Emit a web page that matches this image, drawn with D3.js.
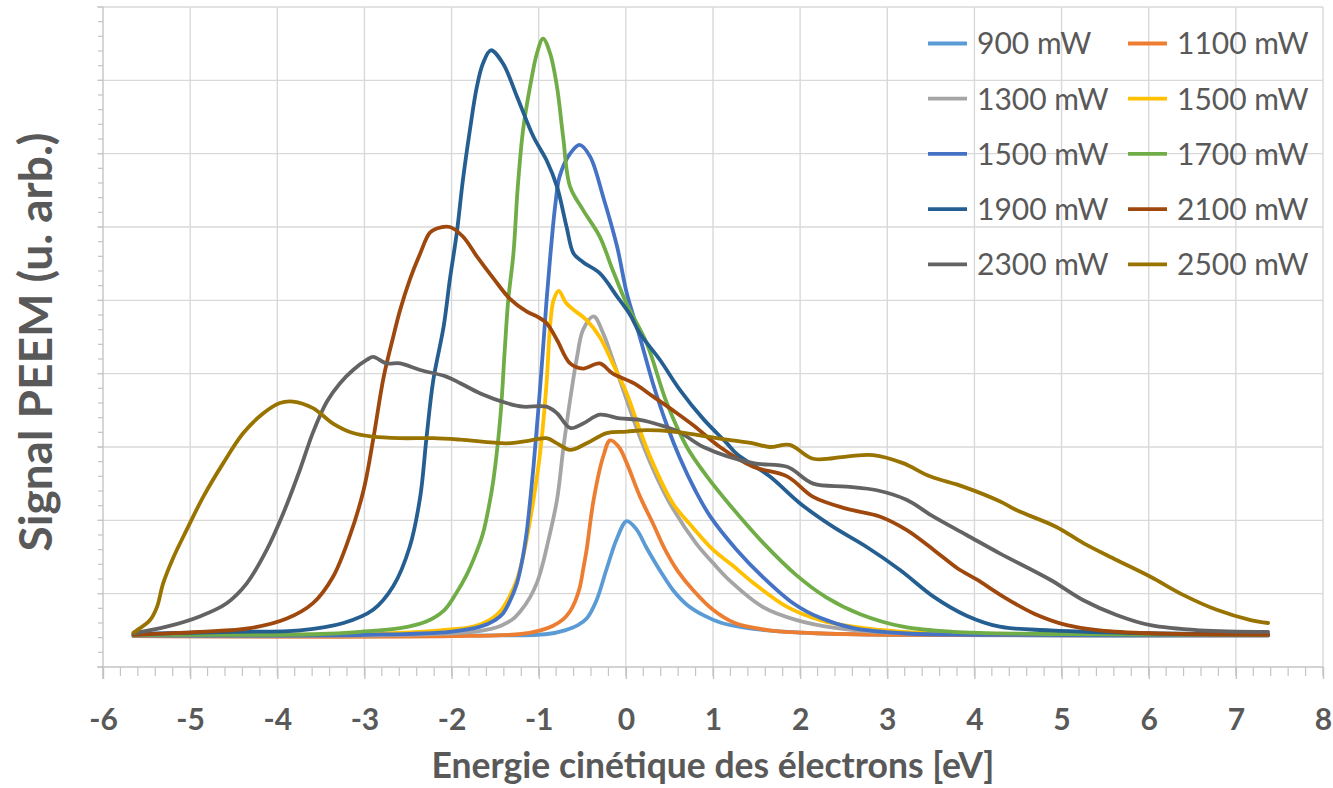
<!DOCTYPE html>
<html>
<head>
<meta charset="utf-8">
<script src="https://cdn.jsdelivr.net/npm/d3@7"></script>
<style>
  html, body { margin: 0; padding: 0; background: #fff; }
  svg { display: block; }
  text { font-family: Lato, "Open Sans", sans-serif; }
</style>
</head>
<body>
<svg id="chart" width="1333" height="788"></svg>
<script>
// ---- Data -------------------------------------------------------------
const xTicks = [-6, -5, -4, -3, -2, -1, 0, 1, 2, 3, 4, 5, 6, 7, 8];
const xTickLabels = ["-6", "-5", "-4", "-3", "-2", "-1", "0", "1", "2", "3", "4", "5", "6", "7", "8"];
const yTicks = [0, 1, 2, 3, 4, 5, 6, 7, 8, 9];

const seriesNames = ["900 mW", "1100 mW", "1300 mW", "1500 mW", "1500 mW",
                     "1700 mW", "1900 mW", "2100 mW", "2300 mW", "2500 mW"];

// [kinetic energy (eV), PEEM signal (arb. units)]
const s900 = [[-5.65,0.42],[-3,0.42],[-1.5,0.43],[-0.9,0.45],[-0.7,0.5],[-0.55,0.57],[-0.45,0.66],
  [-0.34,0.9],[-0.22,1.34],[-0.1,1.76],[0.01,1.99],[0.12,1.88],[0.24,1.62],[0.4,1.3],[0.54,1.05],
  [0.7,0.85],[0.9,0.7],[1.1,0.6],[1.46,0.52],[2,0.47],[3,0.44],[7.37,0.43]];
const s1100 = [[-5.65,0.42],[-2,0.42],[-1.2,0.45],[-0.98,0.5],[-0.84,0.56],[-0.72,0.65],[-0.64,0.76],
  [-0.58,0.9],[-0.53,1.08],[-0.49,1.33],[-0.45,1.6],[-0.37,2.28],[-0.26,2.87],[-0.18,3.09],[-0.08,3.0],
  [0.01,2.78],[0.16,2.33],[0.31,1.96],[0.45,1.6],[0.6,1.3],[0.77,1.05],[1.0,0.78],[1.25,0.6],[1.65,0.5],
  [2.2,0.46],[3,0.44],[7.37,0.43]];
const s1300 = [[-5.65,0.43],[-2.5,0.44],[-1.75,0.48],[-1.55,0.52],[-1.44,0.56],[-1.3,0.65],[-1.21,0.76],
  [-1.1,0.95],[-1.02,1.15],[-0.96,1.38],[-0.91,1.62],[-0.79,2.28],[-0.72,2.96],[-0.64,3.64],[-0.56,4.23],
  [-0.49,4.6],[-0.37,4.78],[-0.26,4.55],[-0.15,4.19],[0.01,3.64],[0.16,3.14],[0.35,2.6],[0.54,2.16],
  [0.81,1.68],[1.0,1.42],[1.2,1.17],[1.57,0.82],[1.96,0.64],[2.42,0.53],[3,0.47],[4,0.45],[7.37,0.44]];
const s1500a = [[-5.65,0.44],[-3,0.45],[-2.13,0.5],[-1.75,0.55],[-1.55,0.65],[-1.44,0.76],[-1.34,0.95],
  [-1.25,1.19],[-1.19,1.45],[-1.14,1.73],[-1.06,2.28],[-0.98,2.96],[-0.91,3.87],[-0.87,4.64],[-0.83,5.0],
  [-0.77,5.13],[-0.69,4.97],[-0.61,4.88],[-0.45,4.73],[-0.3,4.5],[-0.15,4.14],[0.01,3.73],[0.16,3.23],
  [0.31,2.78],[0.54,2.23],[0.77,1.9],[1.0,1.6],[1.23,1.38],[1.46,1.15],[1.85,0.82],[2.23,0.64],
  [2.61,0.55],[3.18,0.48],[4,0.45],[7.37,0.44]];
const s1500b = [[-5.65,0.43],[-3,0.44],[-2.02,0.48],[-1.67,0.55],[-1.5,0.64],[-1.41,0.73],[-1.33,0.9],
  [-1.25,1.14],[-1.19,1.45],[-1.14,1.82],[-1.1,2.25],[-1.06,2.73],[-0.98,3.87],[-0.91,5.0],[-0.86,5.7],
  [-0.81,6.3],[-0.76,6.69],[-0.64,7.0],[-0.53,7.12],[-0.41,6.96],[-0.26,6.41],[-0.1,5.73],[0.01,5.1],
  [0.16,4.5],[0.31,3.87],[0.47,3.3],[0.62,2.85],[0.8,2.4],[0.97,2.05],[1.27,1.6],[1.57,1.23],[1.92,0.87],
  [2.23,0.67],[2.61,0.53],[3.18,0.46],[4,0.44],[7.37,0.43]];
const s1700 = [[-5.65,0.44],[-3.5,0.45],[-3.05,0.48],[-2.59,0.53],[-2.29,0.62],[-2.08,0.78],[-1.95,1.0],
  [-1.83,1.25],[-1.72,1.55],[-1.64,1.82],[-1.57,2.2],[-1.52,2.55],[-1.44,3.41],[-1.39,4.32],[-1.35,5.0],
  [-1.29,5.64],[-1.24,6.55],[-1.18,7.32],[-1.1,7.91],[-1.02,8.37],[-0.95,8.57],[-0.87,8.37],[-0.79,7.91],
  [-0.72,7.23],[-0.64,6.55],[-0.49,6.23],[-0.3,5.87],[-0.15,5.41],[0.01,4.95],[0.24,4.41],[0.47,3.6],
  [0.7,3.0],[0.93,2.6],[1.2,2.2],[1.57,1.7],[1.96,1.25],[2.3,0.95],[2.69,0.72],[3.18,0.55],[3.75,0.48],
  [5,0.45],[7.37,0.44]];
const s1900 = [[-5.65,0.45],[-4.5,0.48],[-3.74,0.5],[-3.24,0.6],[-2.9,0.78],[-2.67,1.1],[-2.48,1.64],
  [-2.36,2.32],[-2.29,3.1],[-2.21,3.91],[-2.09,4.65],[-2.02,5.28],[-1.94,5.92],[-1.87,6.64],[-1.79,7.32],
  [-1.71,7.91],[-1.64,8.23],[-1.55,8.41],[-1.41,8.23],[-1.25,7.78],[-1.06,7.23],[-0.91,6.91],[-0.79,6.55],
  [-0.68,6.0],[-0.6,5.64],[-0.49,5.52],[-0.3,5.37],[-0.1,5.05],[0.05,4.8],[0.16,4.55],[0.39,4.19],
  [0.62,3.78],[0.89,3.38],[1.16,3.05],[1.27,2.91],[1.65,2.6],[2.0,2.23],[2.38,1.91],[2.76,1.64],
  [3.15,1.32],[3.53,0.96],[3.91,0.7],[4.29,0.55],[4.87,0.5],[6,0.46],[7.37,0.45]];
const s2100 = [[-5.65,0.44],[-4.89,0.48],[-4.31,0.53],[-3.89,0.66],[-3.59,0.87],[-3.36,1.23],[-3.17,1.78],
  [-3.01,2.41],[-2.9,3.1],[-2.78,3.95],[-2.67,4.5],[-2.59,4.87],[-2.48,5.28],[-2.36,5.64],[-2.25,5.92],
  [-2.17,5.98],[-2.02,6.0],[-1.87,5.87],[-1.71,5.6],[-1.52,5.3],[-1.33,5.02],[-1.14,4.85],[-1.02,4.78],
  [-0.91,4.69],[-0.79,4.46],[-0.64,4.14],[-0.49,4.07],[-0.3,4.14],[-0.15,4.0],[0.09,3.87],[0.31,3.69],
  [0.54,3.5],[0.77,3.3],[1.08,3.0],[1.46,2.73],[1.85,2.6],[2.15,2.32],[2.53,2.16],[2.92,2.05],[3.22,1.87],
  [3.53,1.6],[3.8,1.35],[4.03,1.19],[4.33,0.96],[4.68,0.73],[5.06,0.57],[5.44,0.5],[6,0.46],[7.37,0.44]];
const s2300 = [[-5.65,0.46],[-5.27,0.55],[-4.89,0.69],[-4.58,0.87],[-4.35,1.14],[-4.12,1.6],[-3.93,2.1],
  [-3.74,2.69],[-3.59,3.2],[-3.43,3.62],[-3.28,3.87],[-3.13,4.05],[-2.97,4.19],[-2.9,4.23],[-2.75,4.14],
  [-2.59,4.14],[-2.36,4.05],[-2.06,3.96],[-1.9,3.87],[-1.67,3.73],[-1.37,3.6],[-1.18,3.55],[-0.91,3.55],
  [-0.79,3.46],[-0.64,3.26],[-0.49,3.32],[-0.3,3.44],[-0.07,3.39],[0.16,3.37],[0.39,3.3],[0.62,3.2],
  [0.89,3.0],[1.46,2.78],[1.85,2.73],[2.15,2.5],[2.53,2.46],[2.88,2.41],[3.22,2.28],[3.53,2.05],
  [3.91,1.8],[4.29,1.55],[4.87,1.19],[5.25,0.91],[5.63,0.71],[6.02,0.57],[6.59,0.5],[7.37,0.48]];
const s2500 = [[-5.65,0.47],[-5.61,0.5],[-5.46,0.64],[-5.38,0.82],[-5.31,1.14],[-5.19,1.5],[-5.04,1.87],
  [-4.85,2.32],[-4.62,2.78],[-4.39,3.19],[-4.16,3.46],[-3.97,3.6],[-3.82,3.62],[-3.59,3.53],[-3.36,3.32],
  [-3.13,3.19],[-2.9,3.14],[-2.59,3.12],[-2.21,3.12],[-1.9,3.1],[-1.37,3.05],[-1.14,3.08],[-0.91,3.12],
  [-0.79,3.05],[-0.64,2.96],[-0.45,3.05],[-0.22,3.19],[0.01,3.21],[0.24,3.23],[0.54,3.21],[0.85,3.16],
  [1.16,3.1],[1.46,3.05],[1.65,3.0],[1.88,3.03],[2.15,2.84],[2.53,2.87],[2.84,2.89],[3.18,2.78],
  [3.49,2.6],[3.87,2.46],[4.29,2.26],[4.48,2.14],[4.94,1.91],[5.25,1.69],[5.63,1.46],[6.02,1.23],
  [6.4,0.98],[6.78,0.78],[7.17,0.64],[7.37,0.6]];

const seriesData = [s900, s1100, s1300, s1500a, s1500b, s1700, s1900, s2100, s2300, s2500];
const seriesColors = ["#5B9BD5", "#ED7D31", "#A5A5A5", "#FFC000", "#4472C4",
                      "#70AD47", "#255E91", "#9E480E", "#636363", "#997300"];

// ---- Layout ------------------------------------------------------------
const plot = { left: 103, right: 1323, top: 7, bottom: 667 };
const textColor = "#595959";
const gridColor = "#d9d9d9";
const axisColor = "#c4c4c4";

const svg = d3.select("#chart");
const x = d3.scaleLinear().domain([-6, 8]).range([plot.left, plot.right]);
const y = d3.scaleLinear().domain([0, 9]).range([plot.bottom, plot.top]);

// gridlines
const grid = svg.append("g");
grid.selectAll("line.h").data(yTicks.filter(v => v > 0)).join("line")
  .attr("x1", plot.left - 6).attr("x2", plot.right)
  .attr("y1", d => y(d)).attr("y2", d => y(d))
  .attr("stroke", gridColor).attr("stroke-width", 1.4);
grid.selectAll("line.v").data(xTicks.filter(v => v > -6)).join("line")
  .attr("y1", plot.top).attr("y2", plot.bottom)
  .attr("x1", d => x(d)).attr("x2", d => x(d))
  .attr("stroke", gridColor).attr("stroke-width", 1.4);

// x axis: line, major and minor ticks, labels
const xMinor = d3.range(-6, 8.0001, 0.2);
const xAxis = d3.axisBottom(x)
  .tickValues(xTicks)
  .tickFormat((d, i) => xTickLabels[i])
  .tickSize(12).tickPadding(30);
const gx = svg.append("g").attr("transform", `translate(0,${plot.bottom})`).call(xAxis);
gx.select(".domain").attr("stroke", axisColor).attr("stroke-width", 1.4)
  .attr("d", `M${plot.left - 6},0H${plot.right}`);
gx.selectAll(".tick line").attr("stroke", axisColor).attr("stroke-width", 1.4);
gx.selectAll(".tick text")
  .attr("fill", textColor).attr("font-size", 30).attr("font-weight", 700)
  .attr("font-family", "Lato, sans-serif");
gx.append("g").selectAll("line").data(xMinor).join("line")
  .attr("x1", d => x(d)).attr("x2", d => x(d)).attr("y1", 0).attr("y2", 9)
  .attr("stroke", axisColor).attr("stroke-width", 1.2);

// y axis: line and ticks (no labels)
const yMinor = d3.range(0, 9.0001, 0.2);
const gy = svg.append("g");
gy.append("line").attr("x1", plot.left).attr("x2", plot.left)
  .attr("y1", plot.top).attr("y2", plot.bottom + 12)
  .attr("stroke", axisColor).attr("stroke-width", 1.4);
gy.selectAll("line.t").data(yMinor).join("line")
  .attr("x1", plot.left - 5).attr("x2", plot.left)
  .attr("y1", d => y(d)).attr("y2", d => y(d))
  .attr("stroke", axisColor).attr("stroke-width", 1.2);

// curves
const line = d3.line()
  .x(d => x(d[0])).y(d => y(d[1]))
  .curve(d3.curveCatmullRom.alpha(0.5));
svg.append("g").selectAll("path").data(seriesData).join("path")
  .attr("d", d => line(d))
  .attr("fill", "none")
  .attr("stroke", (d, i) => seriesColors[i])
  .attr("stroke-width", 3.8)
  .attr("stroke-linejoin", "round")
  .attr("stroke-linecap", "round");

// legend: two columns, five rows
const legend = svg.append("g");
const legItems = legend.selectAll("g").data(seriesNames).join("g")
  .attr("transform", (d, i) => `translate(${928 + (i % 2) * 200},${43.5 + Math.floor(i / 2) * 55.2})`);
legItems.append("line")
  .attr("x1", 0).attr("x2", 39).attr("y1", 0).attr("y2", 0)
  .attr("stroke", (d, i) => seriesColors[i]).attr("stroke-width", 3.8);
legItems.append("text")
  .attr("x", 49).attr("dy", "0.36em")
  .attr("fill", textColor).attr("font-size", 30)
  .text(d => d);

// axis titles
svg.append("text")
  .attr("x", 713).attr("y", 778)
  .attr("text-anchor", "middle")
  .attr("fill", textColor).attr("font-size", 35.5).attr("font-weight", 700)
  .text("Energie cinétique des électrons [eV]");
svg.append("text")
  .attr("transform", "translate(52,342) rotate(-90)")
  .attr("text-anchor", "middle")
  .attr("fill", textColor).attr("font-size", 46).attr("font-weight", 700)
  .text("Signal PEEM (u. arb.)");
</script>
</body>
</html>
